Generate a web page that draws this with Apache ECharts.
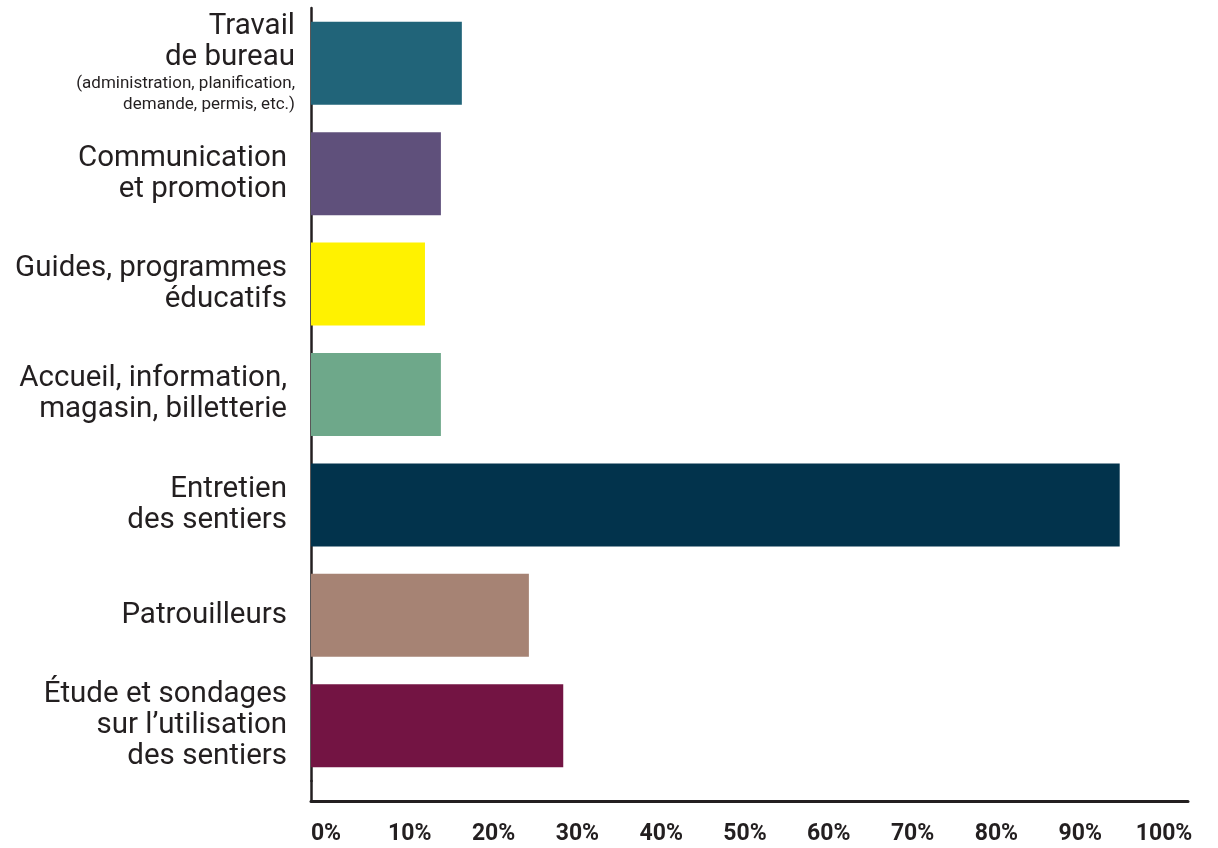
<!DOCTYPE html>
<html>
<head>
<meta charset="utf-8">
<script src="https://cdn.jsdelivr.net/npm/echarts@6/dist/echarts.min.js"></script>
<style>
html,body{margin:0;padding:0;background:#fff;}
#chart{width:1218px;height:848px;}
</style>
</head>
<body>
<div id="chart"></div>
<script>
const categories = [
  'Travail de bureau',
  'Communication et promotion',
  'Guides, programmes éducatifs',
  'Accueil, information, magasin, billetterie',
  'Entretien des sentiers',
  'Patrouilleurs',
  'Étude et sondages sur l’utilisation des sentiers'
];
const labelLines = [
  ['{b|Travail}', '{b|de bureau}', '{s|(administration, planification,}', '{s|demande, permis, etc.)}'],
  ['{a|Communication}', '{a|et promotion}'],
  ['{a|Guides, programmes}', '{a|éducatifs}'],
  ['{a|Accueil, information,}', '{a|magasin, billetterie}'],
  ['{a|Entretien}', '{a|des sentiers}'],
  ['{a|Patrouilleurs}'],
  ['{a|Étude et sondages}', '{a|sur l’utilisation}', '{a|des sentiers}']
];
const values = [18.0, 15.5, 13.6, 15.5, 96.5, 26.0, 30.1];
const colors = ['#216479', '#5f507b', '#fff200', '#6ea88a', '#02334c', '#a68374', '#731443'];
const tickLabels = ['0%', '10%', '20%', '30%', '40%', '50%', '60%', '70%', '80%', '90%', '100%'];

const axisColor = '#231f20';
const chart = echarts.init(document.getElementById('chart'));
chart.setOption({
  animation: false,
  grid: [
    { left: 311, top: 8, height: 773, right: 30 },
    { left: 311, top: 781, height: 20, right: 30 }
  ],
  xAxis: [
    { gridIndex: 0, type: 'value', min: 0, max: 104.65, interval: 10, show: false },
    {
      gridIndex: 1, type: 'value', min: 0, max: 104.65, interval: 10,
      axisLine: { show: true, lineStyle: { color: axisColor, width: 3 } },
      axisTick: { show: false },
      splitLine: { show: false },
      axisLabel: {
        margin: 22,
        showMaxLabel: false,
        padding: [0, 0, 0, 30],
        color: axisColor,
        fontFamily: 'Roboto',
        fontWeight: 'bold',
        fontSize: 23,
        formatter: function (v) {
          const i = Math.round(v / 10);
          return (Math.abs(v - i * 10) < 1e-6 && i >= 0 && i < tickLabels.length) ? tickLabels[i] : '';
        }
      }
    }
  ],
  yAxis: [
    {
      gridIndex: 0, type: 'category', inverse: true, data: categories,
      axisLine: { show: true, lineStyle: { color: axisColor, width: 2.5 } },
      axisTick: { show: false },
      axisLabel: {
        margin: 16,
        align: 'right',
        color: axisColor,
        fontFamily: 'Roboto',
        formatter: function (v, idx) { return labelLines[idx].join('\n'); },
        rich: {
          a: { fontFamily: 'Roboto', fontSize: 29.5, lineHeight: 31, color: axisColor, padding: [0, 8, 0, 0], align: 'right' },
          b: { fontFamily: 'Roboto', fontSize: 29.5, lineHeight: 31, color: axisColor, align: 'right' },
          s: { fontFamily: 'Roboto', fontSize: 17, lineHeight: 21, color: axisColor, align: 'right' }
        }
      }
    },
    {
      gridIndex: 1, type: 'category', data: [''],
      axisLine: { show: true, lineStyle: { color: axisColor, width: 2.5 } },
      axisTick: { show: false },
      axisLabel: { show: false }
    }
  ],
  series: [
    {
      type: 'bar',
      xAxisIndex: 0, yAxisIndex: 0,
      barWidth: 83,
      data: values.map((v, i) => ({ value: v, itemStyle: { color: colors[i] } }))
    }
  ]
});
</script>
</body>
</html>
